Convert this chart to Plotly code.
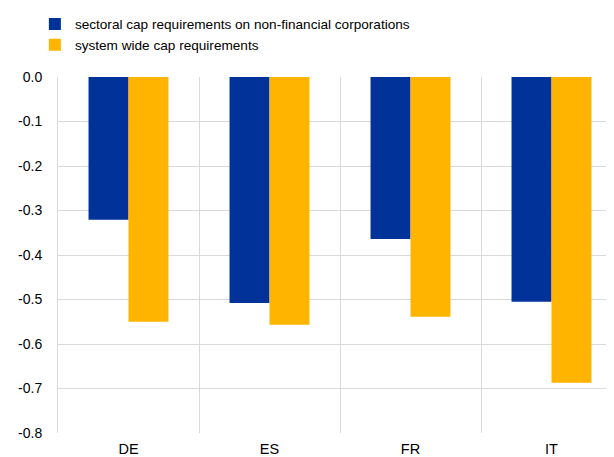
import plotly.graph_objects as go

categories = ["DE", "ES", "FR", "IT"]
sectoral = [-0.321, -0.508, -0.364, -0.505]
system_wide = [-0.550, -0.557, -0.539, -0.687]
series_names = ["sectoral cap requirements on non-financial corporations",
                "system wide cap requirements"]
ytick_vals = [0.0, -0.1, -0.2, -0.3, -0.4, -0.5, -0.6, -0.7, -0.8]
ytick_text = ["0.0", "-0.1", "-0.2", "-0.3", "-0.4", "-0.5", "-0.6", "-0.7", "-0.8"]

FONT = "Liberation Sans, Arial, sans-serif"
GRID = "#d9d9d9"

fig = go.Figure()
fig.add_trace(go.Bar(x=categories, y=sectoral, name=series_names[0],
                     marker=dict(color="#003299", line=dict(width=0))))
fig.add_trace(go.Bar(x=categories, y=system_wide, name=series_names[1],
                     marker=dict(color="#FFB400", line=dict(width=0))))

fig.update_layout(
    width=614, height=457,
    margin=dict(l=50, r=0, t=69, b=32, autoexpand=False),
    paper_bgcolor="white", plot_bgcolor="white",
    font=dict(family=FONT, size=13.6, color="#000000"),
    barmode="group", bargap=0.433, bargroupgap=0,
    showlegend=True,
    legend=dict(x=-0.041, y=1.192, xanchor="left", yanchor="top",
                orientation="v", font=dict(size=13.6), bgcolor="rgba(0,0,0,0)",
                tracegroupgap=0),
    xaxis=dict(type="category", range=[-0.5, 3.5], tickson="boundaries",
               showgrid=True, gridcolor=GRID, gridwidth=1, ticks="",
               showline=False, zeroline=False, tickfont=dict(size=14.5),
               ticklabelstandoff=5, automargin=False),
    yaxis=dict(range=[-0.8, 0.0], tickvals=ytick_vals, ticktext=ytick_text,
               showgrid=True, gridcolor=GRID, gridwidth=1, zeroline=False,
               showline=True, linecolor=GRID, linewidth=1, mirror=False,
               ticks="", ticklabelstandoff=12, automargin=False,
               tickfont=dict(size=14)),
)

fig.write_html("out.html")
